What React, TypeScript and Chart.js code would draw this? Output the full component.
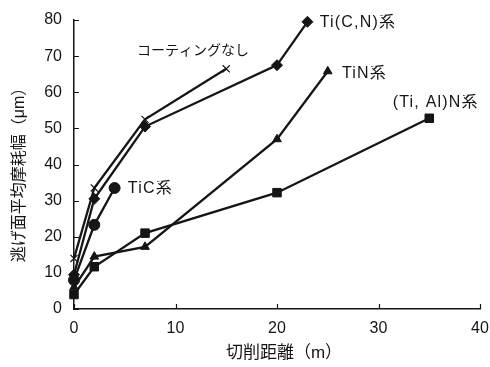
import React, { useEffect, useRef } from "react";
import { Chart, registerables } from "chart.js";

Chart.register(...registerables);

// Data (cutting distance in m, flank wear width in μm)
const noneX = [0, 2, 7, 15];
const noneY = [14, 33.5, 52.5, 66.5];

const ticnX = [0, 2, 7, 20, 23];
const ticnY = [9.5, 30.5, 50.5, 67.5, 79.5];

const tinX = [0, 2, 7, 20, 25];
const tinY = [6, 14.5, 17.2, 47, 65.8];

const tialnX = [0, 2, 7, 20, 35];
const tialnY = [4, 11.7, 21, 32.2, 52.8];

const ticX = [0, 2, 4];
const ticY = [8, 23.3, 33.5];

const xTicks = [0, 10, 20, 30, 40];
const yTicks = [0, 10, 20, 30, 40, 50, 60, 70, 80];

const xTitle = "切削距離（m）";
const yTitle = "逃げ面平均摩耗幅（μm）";

// Series labels, anchored in data units
const labelTexts = ["コーティングなし", "Ti(C,N)系", "TiN系", "(Ti, Al)N系", "TiC系"];
const labelX = [6.2, 24.2, 26.4, 31.4, 5.3];
const labelY = [71.4, 79.4, 65.3, 57.2, 33.3];

const toPts = (xs: number[], ys: number[]) => xs.map((x, i) => ({ x, y: ys[i] }));

const INK = "#151515";
const FONT = '"Liberation Sans", "Noto Sans CJK JP", sans-serif';

export default function App() {
  const ref = useRef<HTMLCanvasElement | null>(null);

  useEffect(() => {
    if (!ref.current) return;

    const overlay = {
      id: "overlay",
      afterDraw(chart: any) {
        const ctx = chart.ctx;
        const xs = chart.scales.x;
        const ys = chart.scales.y;
        const area = chart.chartArea;
        ctx.save();
        // inward ticks
        ctx.strokeStyle = INK;
        ctx.lineWidth = 1.2;
        ctx.beginPath();
        yTicks.forEach((v) => {
          const py = Math.round(ys.getPixelForValue(v)) + 0.5;
          ctx.moveTo(area.left, py);
          ctx.lineTo(area.left + 5, py);
        });
        xTicks.forEach((v) => {
          const px = Math.round(xs.getPixelForValue(v)) + 0.5;
          ctx.moveTo(px, area.bottom);
          ctx.lineTo(px, area.bottom - 5);
        });
        ctx.stroke();

        // series labels
        ctx.fillStyle = INK;
        ctx.textBaseline = "middle";
        ctx.textAlign = "left";
        labelTexts.forEach((t, i) => {
          const kana = i === 0;
          ctx.font = `${kana ? 14 : 16}px ${FONT}`;
          (ctx as any).letterSpacing = kana ? "0px" : "1.2px";
          ctx.fillText(t, xs.getPixelForValue(labelX[i]), ys.getPixelForValue(labelY[i]));
        });
        (ctx as any).letterSpacing = "0px";

        // axis titles
        ctx.font = `17px ${FONT}`;
        ctx.textAlign = "center";
        ctx.fillText(xTitle, (area.left + area.right) / 2 + 7, 353);
        ctx.translate(20, 171);
        ctx.rotate(-Math.PI / 2);
        ctx.font = `16px ${FONT}`;
        ctx.fillText(yTitle, 0, 0);
        ctx.restore();
      },
    };

    const common = {
      borderColor: INK,
      backgroundColor: INK,
      pointBorderColor: INK,
      pointBackgroundColor: INK,
      borderWidth: 2.3,
      fill: false,
      tension: 0,
      clip: false,
    };

    const chart = new Chart(ref.current, {
      type: "line",
      data: {
        datasets: [
          { ...common, label: "コーティングなし", data: toPts(noneX, noneY), pointStyle: "crossRot", pointRadius: 5, pointBorderWidth: 1.2 },
          { ...common, label: "Ti(C,N)系", data: toPts(ticnX, ticnY), pointStyle: "rectRot", pointRadius: 5.5, pointBorderWidth: 1 },
          { ...common, label: "TiN系", data: toPts(tinX, tinY), pointStyle: "triangle", pointRadius: 5, pointBorderWidth: 1 },
          { ...common, label: "(Ti, Al)N系", data: toPts(tialnX, tialnY), pointStyle: "rect", pointRadius: 6, pointBorderWidth: 1 },
          { ...common, label: "TiC系", data: toPts(ticX, ticY), pointStyle: "circle", pointRadius: 5.5, pointBorderWidth: 1 },
        ],
      } as any,
      options: {
        animation: false,
        responsive: true,
        maintainAspectRatio: false,
        layout: { padding: { top: 20, right: 10, left: 0, bottom: 0 } },
        plugins: { legend: { display: false }, tooltip: { enabled: false } },
        scales: {
          x: {
            type: "linear",
            min: 0,
            max: 40,
            afterFit: (s: any) => { s.height = 58; s.paddingLeft = 0; s.paddingRight = 0; },
            afterBuildTicks: (s: any) => { s.ticks = xTicks.map((v) => ({ value: v })); },
            grid: { display: false, drawTicks: false },
            border: { display: true, color: INK, width: 1.5 },
            ticks: { color: INK, font: { size: 16, family: FONT }, padding: 10 },
          },
          y: {
            type: "linear",
            min: 0,
            max: 80,
            afterFit: (s: any) => { s.width = 74; s.paddingTop = 0; s.paddingBottom = 0; },
            afterBuildTicks: (s: any) => { s.ticks = yTicks.map((v) => ({ value: v })); },
            grid: { display: false, drawTicks: false },
            border: { display: true, color: INK, width: 1.5 },
            ticks: { color: INK, font: { size: 16, family: FONT }, padding: 12 },
          },
        },
      } as any,
      plugins: [overlay],
    });
    return () => chart.destroy();
  }, []);

  return (
    <div style={{ position: "fixed", left: 0, top: 0, width: 490, height: 367, background: "#fff" }}>
      <canvas ref={ref} />
    </div>
  );
}
